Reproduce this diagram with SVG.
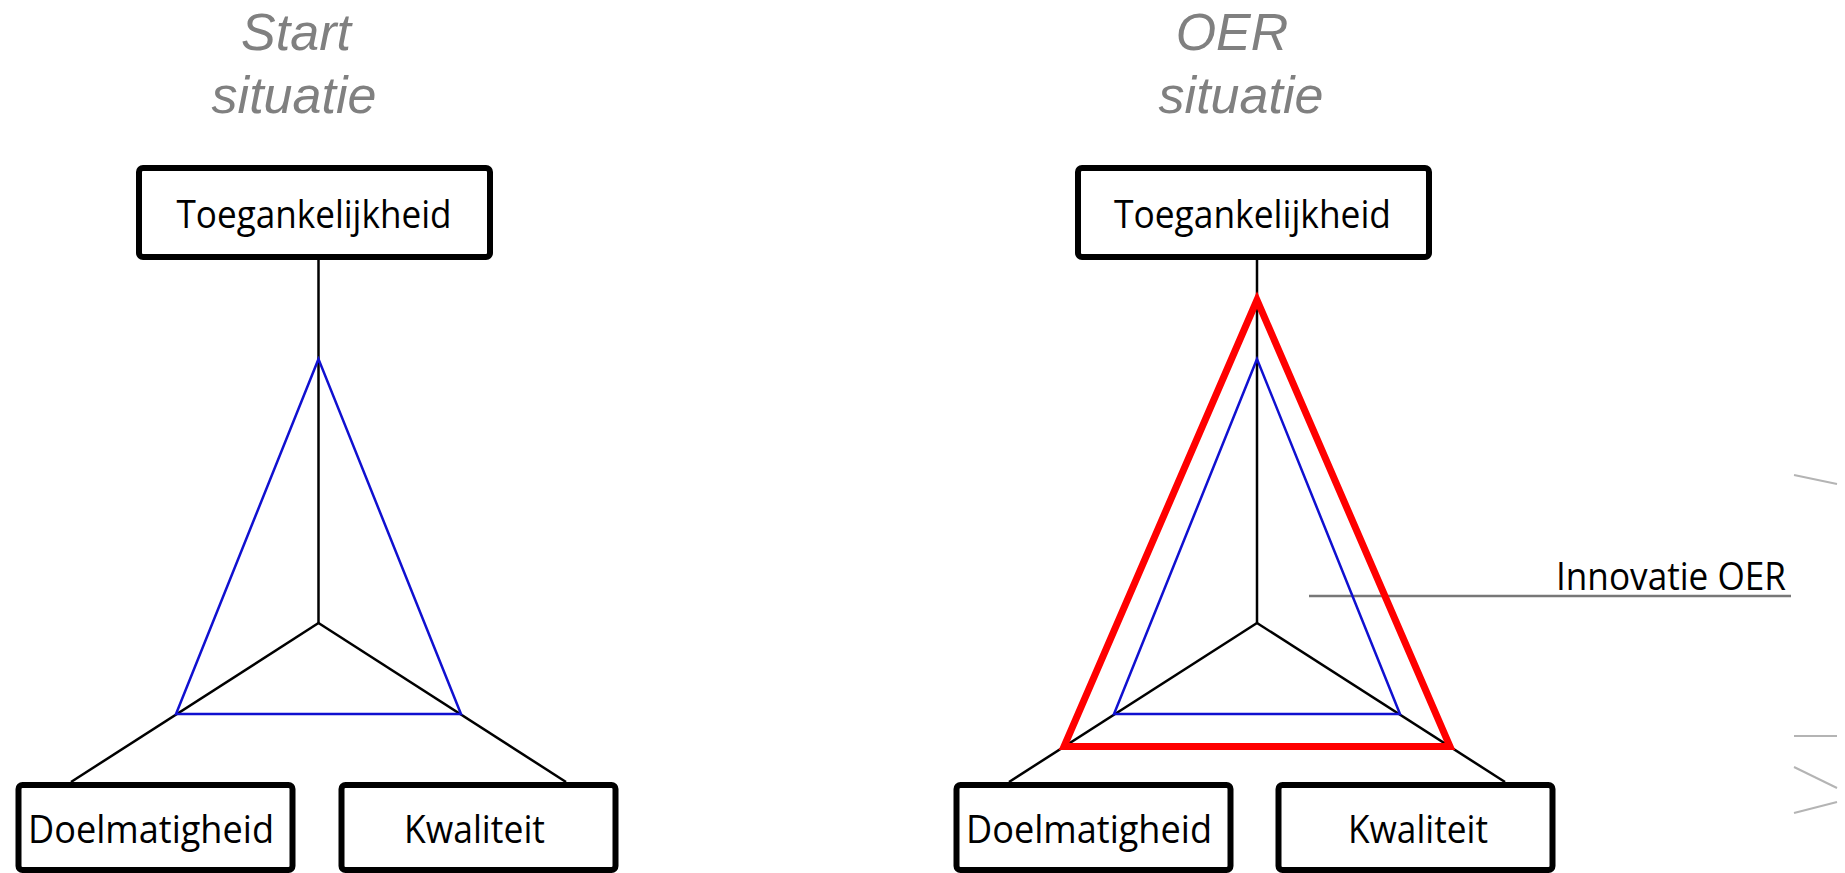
<svg xmlns="http://www.w3.org/2000/svg" width="1845" height="873" viewBox="0 0 1845 873">
  <style>
    .title { font-family: "Liberation Sans", Arial, sans-serif; font-style: italic; font-size: 52px; fill: #808080; text-anchor: middle; }
    .box { fill: #ffffff; stroke: #000000; stroke-width: 6; }
    .label { font-family: "Open Sans", "Noto Sans", sans-serif; font-size: 38px; fill: #000000; text-anchor: middle; }
    .conn { stroke: #000000; stroke-width: 2.5; fill: none; }
    .blue { stroke: #1010d0; stroke-width: 2.5; fill: none; stroke-linejoin: miter; }
    .red { stroke: #ff0000; stroke-width: 7; fill: none; stroke-linejoin: miter; }
    .leader { stroke: #777777; stroke-width: 2.5; }
    .deco { stroke: #b4b4b4; stroke-width: 2; fill: none; }
  </style>
  <rect width="1845" height="873" fill="#ffffff"/>

  <g id="titles">
    <text class="title" x="296" y="50">Start</text>
    <text class="title" x="294" y="113">situatie</text>
    <text class="title" x="1232" y="50">OER</text>
    <text class="title" x="1241" y="113">situatie</text>
  </g>

  <g id="connectors">
    <line class="conn" x1="318.5" y1="260" x2="318.5" y2="623"/>
    <line class="conn" x1="318.5" y1="623" x2="71" y2="782"/>
    <line class="conn" x1="318.5" y1="623" x2="566" y2="782"/>
    <line class="conn" x1="1257" y1="260" x2="1257" y2="623"/>
    <line class="conn" x1="1257" y1="623" x2="1009" y2="782"/>
    <line class="conn" x1="1257" y1="623" x2="1505" y2="782"/>
    <line class="leader" x1="1309" y1="596" x2="1791" y2="596"/>
  </g>

  <g id="triangles">
    <polygon class="blue" points="318.5,359 176,714 461,714"/>
    <polygon class="red" points="1257,300 1064,746.5 1450,746.5"/>
    <polygon class="blue" points="1257,359 1114,714 1400,714"/>
  </g>

  <g id="node-toegankelijkheid-start">
    <rect class="box" x="139" y="168" width="351" height="89" rx="4"/>
    <text class="label" x="314" y="228" textLength="275" lengthAdjust="spacingAndGlyphs">Toegankelijkheid</text>
  </g>
  <g id="node-doelmatigheid-start">
    <rect class="box" x="18.5" y="785" width="274" height="85" rx="4"/>
    <text class="label" x="151" y="843" textLength="246" lengthAdjust="spacingAndGlyphs">Doelmatigheid</text>
  </g>
  <g id="node-kwaliteit-start">
    <rect class="box" x="341.5" y="785" width="274" height="85" rx="4"/>
    <text class="label" x="474.5" y="843" textLength="141" lengthAdjust="spacingAndGlyphs">Kwaliteit</text>
  </g>

  <g id="node-toegankelijkheid-oer">
    <rect class="box" x="1078" y="168" width="351" height="89" rx="4"/>
    <text class="label" x="1252.5" y="228" textLength="277" lengthAdjust="spacingAndGlyphs">Toegankelijkheid</text>
  </g>
  <g id="node-doelmatigheid-oer">
    <rect class="box" x="956.5" y="785" width="274" height="85" rx="4"/>
    <text class="label" x="1089" y="843" textLength="246" lengthAdjust="spacingAndGlyphs">Doelmatigheid</text>
  </g>
  <g id="node-kwaliteit-oer">
    <rect class="box" x="1278.5" y="785" width="274" height="85" rx="4"/>
    <text class="label" x="1418" y="843" textLength="140" lengthAdjust="spacingAndGlyphs">Kwaliteit</text>
  </g>

  <g id="label-innovatie">
    <text class="label" x="1671" y="590" font-size="36" textLength="230" lengthAdjust="spacingAndGlyphs">Innovatie OER</text>
  </g>

  <g id="edge-decoration">
    <line class="deco" x1="1794" y1="475" x2="1837" y2="484"/>
    <line class="deco" x1="1794" y1="736" x2="1837" y2="736"/>
    <line class="deco" x1="1794" y1="767" x2="1837" y2="788"/>
    <line class="deco" x1="1794" y1="813" x2="1837" y2="802"/>
  </g>
</svg>
